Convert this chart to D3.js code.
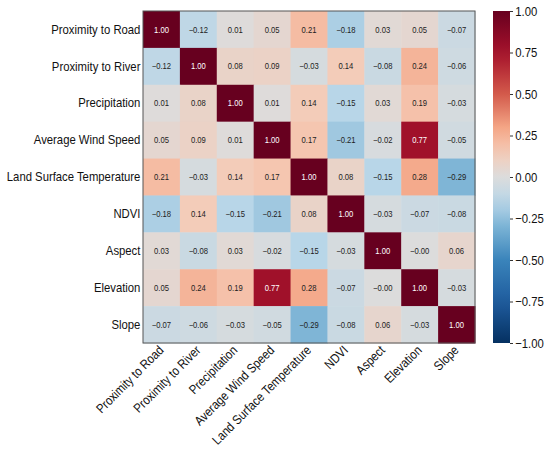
<!DOCTYPE html>
<html>
<head>
<meta charset="utf-8">
<title>Correlation heatmap</title>
<script src="https://cdn.jsdelivr.net/npm/d3@7"></script>
<style>
  body { margin: 0; background: #fff; }
  svg { font-family: "Liberation Sans", Arial, sans-serif; }
</style>
</head>
<body>
<div id="container"></div>
<script>
// variables (rows and columns share the same order)
var factors = ["Proximity to Road", "Proximity to River", "Precipitation", "Average Wind Speed",
  "Land Surface Temperature", "NDVI", "Aspect", "Elevation", "Slope"];

// correlation matrix, row by row
var corr = [
  [1.00, -0.12, 0.01, 0.05, 0.21, -0.18, 0.03, 0.05, -0.07],
  [-0.12, 1.00, 0.08, 0.09, -0.03, 0.14, -0.08, 0.24, -0.06],
  [0.01, 0.08, 1.00, 0.01, 0.14, -0.15, 0.03, 0.19, -0.03],
  [0.05, 0.09, 0.01, 1.00, 0.17, -0.21, -0.02, 0.77, -0.05],
  [0.21, -0.03, 0.14, 0.17, 1.00, 0.08, -0.15, 0.28, -0.29],
  [-0.18, 0.14, -0.15, -0.21, 0.08, 1.00, -0.03, -0.07, -0.08],
  [0.03, -0.08, 0.03, -0.02, -0.15, -0.03, 1.00, -0.00, 0.06],
  [0.05, 0.24, 0.19, 0.77, 0.28, -0.07, -0.00, 1.00, -0.03],
  [-0.07, -0.06, -0.03, -0.05, -0.29, -0.08, 0.06, -0.03, 1.00]
];

var colorbarTicks = [1.00, 0.75, 0.50, 0.25, 0.00, -0.25, -0.50, -0.75, -1.00];

// diverging palette (blue - grey - red)
var paletteStops = [-1, -0.75, -0.5, -0.3, -0.15, 0, 0.15, 0.3, 0.5, 0.75, 1];
var paletteColors = ["#053061", "#1f5c9e", "#3a84bb", "#7bb3d5", "#b8d6e8", "#dcdcdc",
  "#f5cbb7", "#f4a585", "#d35a4b", "#a5122b", "#67001f"];

var width = 550, height = 452;
var plotLeft = 143, plotTop = 11, size = 332;
var labelFont = 13;
var squeeze = "scale(0.87,1)"; // glyphs in the original are a bit narrow

var color = d3.scaleLinear()
  .domain(paletteStops)
  .range(paletteColors)
  .interpolate(d3.interpolateRgb)
  .clamp(true);

var svg = d3.select("#container")
  .append("svg")
  .attr("width", width)
  .attr("height", height);

var x = d3.scaleBand().domain(factors).range([plotLeft, plotLeft + size]);
var y = d3.scaleBand().domain(factors).range([plotTop, plotTop + size]);

var cells = [];
corr.forEach(function (row, i) {
  row.forEach(function (v, j) {
    cells.push({ r: factors[i], c: factors[j], v: v });
  });
});

var f2 = d3.format(".2f");
// keep the sign of negative zero, like the original annotations
var fmt = function (v) {
  if (v === 0 && 1 / v < 0) return "\u22120.00";
  return f2(v);
};

svg.selectAll("rect.cell")
  .data(cells)
  .enter()
  .append("rect")
  .attr("class", "cell")
  .attr("x", function (d) { return x(d.c); })
  .attr("y", function (d) { return y(d.r); })
  .attr("width", x.bandwidth() + 0.5)
  .attr("height", y.bandwidth() + 0.5)
  .attr("fill", function (d) { return color(d.v); });

svg.selectAll("text.val")
  .data(cells)
  .enter()
  .append("text")
  .attr("class", "val")
  .attr("transform", function (d) {
    return "translate(" + (x(d.c) + x.bandwidth() / 2) + "," + (y(d.r) + y.bandwidth() / 2) + ") " + squeeze;
  })
  .attr("dy", "0.35em")
  .attr("text-anchor", "middle")
  .attr("font-size", 8.8)
  .attr("fill", function (d) { return d.v > 0.6 ? "#fff" : "#222"; })
  .text(function (d) { return fmt(d.v); });

// frame
svg.append("rect")
  .attr("x", plotLeft)
  .attr("y", plotTop)
  .attr("width", size)
  .attr("height", size)
  .attr("fill", "none")
  .attr("stroke", "#555")
  .attr("stroke-width", 1);

// row labels
var yAxis = svg.append("g")
  .attr("transform", "translate(" + plotLeft + ",0)")
  .call(d3.axisLeft(y).tickSize(0).tickPadding(3));
yAxis.select(".domain").remove();
yAxis.selectAll("text")
  .attr("font-size", labelFont)
  .attr("fill", "#111")
  .attr("transform", squeeze)
  .style("font-family", "'Liberation Sans', Arial, sans-serif");

// column labels, rotated
var xAxis = svg.append("g")
  .attr("transform", "translate(0," + (plotTop + size) + ")")
  .call(d3.axisBottom(x).tickSize(0).tickPadding(0));
xAxis.select(".domain").remove();
xAxis.selectAll("text")
  .attr("font-size", labelFont)
  .attr("fill", "#111")
  .style("font-family", "'Liberation Sans', Arial, sans-serif")
  .attr("text-anchor", "end")
  .attr("dy", null)
  .attr("y", 0)
  .attr("transform", "translate(3,8) rotate(-45) " + squeeze);

// colorbar
var cbX = 493, cbW = 17;
var cbScale = d3.scaleLinear().domain([-1, 1]).range([plotTop + size, plotTop]);

var defs = svg.append("defs");
var grad = defs.append("linearGradient")
  .attr("id", "cbgrad")
  .attr("x1", 0).attr("y1", 1).attr("x2", 0).attr("y2", 0);
d3.range(0, 1.0001, 0.05).forEach(function (t) {
  grad.append("stop")
    .attr("offset", t)
    .attr("stop-color", color(-1 + 2 * t));
});

svg.append("rect")
  .attr("x", cbX)
  .attr("y", plotTop)
  .attr("width", cbW)
  .attr("height", size)
  .attr("fill", "url(#cbgrad)");

var cbAxis = svg.append("g")
  .attr("transform", "translate(" + (cbX + cbW) + ",0)")
  .call(d3.axisRight(cbScale).tickValues(colorbarTicks).tickFormat(fmt).tickSize(3).tickPadding(2));
cbAxis.select(".domain").remove();
cbAxis.selectAll("line").attr("stroke", "#333");
cbAxis.selectAll("text")
  .attr("font-size", labelFont)
  .attr("fill", "#111")
  .attr("transform", squeeze + " translate(1,0)")
  .style("font-family", "'Liberation Sans', Arial, sans-serif");
</script>
</body>
</html>
